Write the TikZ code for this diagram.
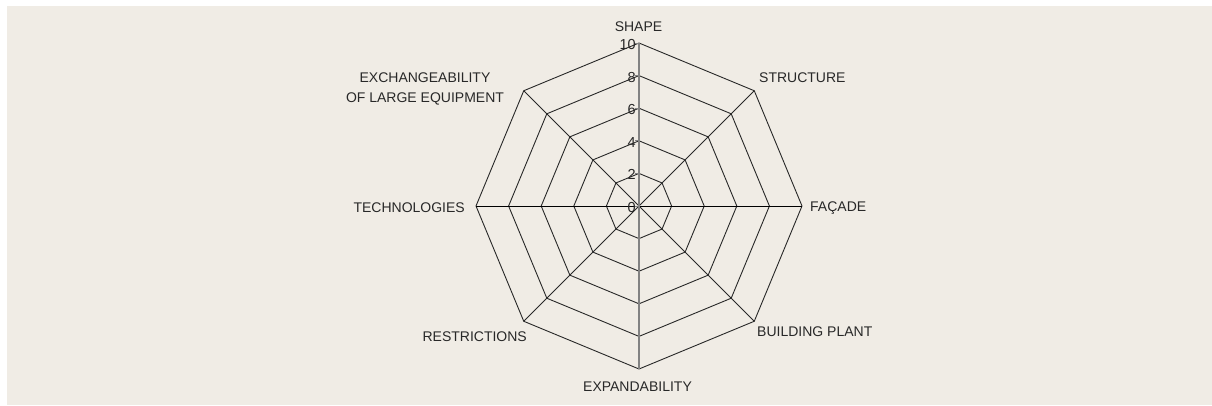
\documentclass[tikz,border=0pt]{standalone}
\usepackage{fontspec}
\setmainfont{Liberation Sans}
\definecolor{bg}{RGB}{240,236,229}
\definecolor{ink}{RGB}{40,40,40}
\definecolor{axisgray}{RGB}{130,130,130}
\begin{document}
\begin{tikzpicture}[x=1pt,y=-1pt,
  lbl/.style={font=\fontsize{14}{20}\selectfont, text=ink, inner sep=0pt},
  caps/.style={lbl, text height=10pt, text depth=0pt},
  gridline/.style={draw=ink, line width=0.9pt, line join=miter},
  spoke/.style={draw=ink, line width=0.9pt},
  ticklbl/.style={font=\fontsize{14.5}{16}\selectfont, text=ink, inner sep=0pt, text height=10pt, text depth=0pt, anchor=east}]
\useasboundingbox (0,0) rectangle (1212,405);
\fill[bg] (7,6) rectangle (1212,405);
\coordinate (c) at (639,206);
% octagon rings
\foreach \k in {1,...,5}{
  \draw[gridline] ([shift={(0:\k*32.6)}]c)
    \foreach \a in {45,90,...,315}{ -- ([shift={(\a:\k*32.6)}]c)} -- cycle;
}
% outer vertices
\foreach \i/\a in {0/0,1/45,2/90,3/135,4/180,5/225,6/270,7/315}{
  \coordinate (v\i) at ([shift={(\a:163)}]c);
}
% diagonal spokes
\draw[spoke] (c) -- (v1);
\draw[spoke] (c) -- (v3);
\draw[spoke] (c) -- (v5);
\draw[spoke] (c) -- (v7);
% horizontal axis
\draw[draw=black, line width=1pt] (v4) -- (v0);
% vertical axis with ticks
\draw[draw=axisgray, line width=1.7pt] (v2) -- (v6);
\foreach \k/\t in {0/0,1/2,2/4,3/6,4/8,5/10}{
  \coordinate (t\k) at ([yshift=\k*32.6pt]c);
  \draw[draw=axisgray, line width=1pt] (t\k) -- ++(-4,0);
  \node[ticklbl] (tl\k) at ([xshift=-3pt,yshift=-1.5pt]t\k) {\t};
}
% axis labels
\node[caps] (shape) at (638.5,26) {SHAPE};
\node[caps, anchor=west] (structure) at (759,77.5) {STRUCTURE};
\node[caps, anchor=west] (facade) at (810,206) {FAÇADE};
\node[caps, anchor=west] (plant) at (757,331) {BUILDING PLANT};
\node[caps] (expand) at (637.5,386.5) {EXPANDABILITY};
\node[caps, anchor=east] (restr) at (527,336) {RESTRICTIONS};
\node[caps, anchor=east] (tech) at (465,207) {TECHNOLOGIES};
\node[lbl, align=center] (exch) at (425,88.5) {EXCHANGEABILITY\\OF LARGE EQUIPMENT};
\end{tikzpicture}
\end{document}
